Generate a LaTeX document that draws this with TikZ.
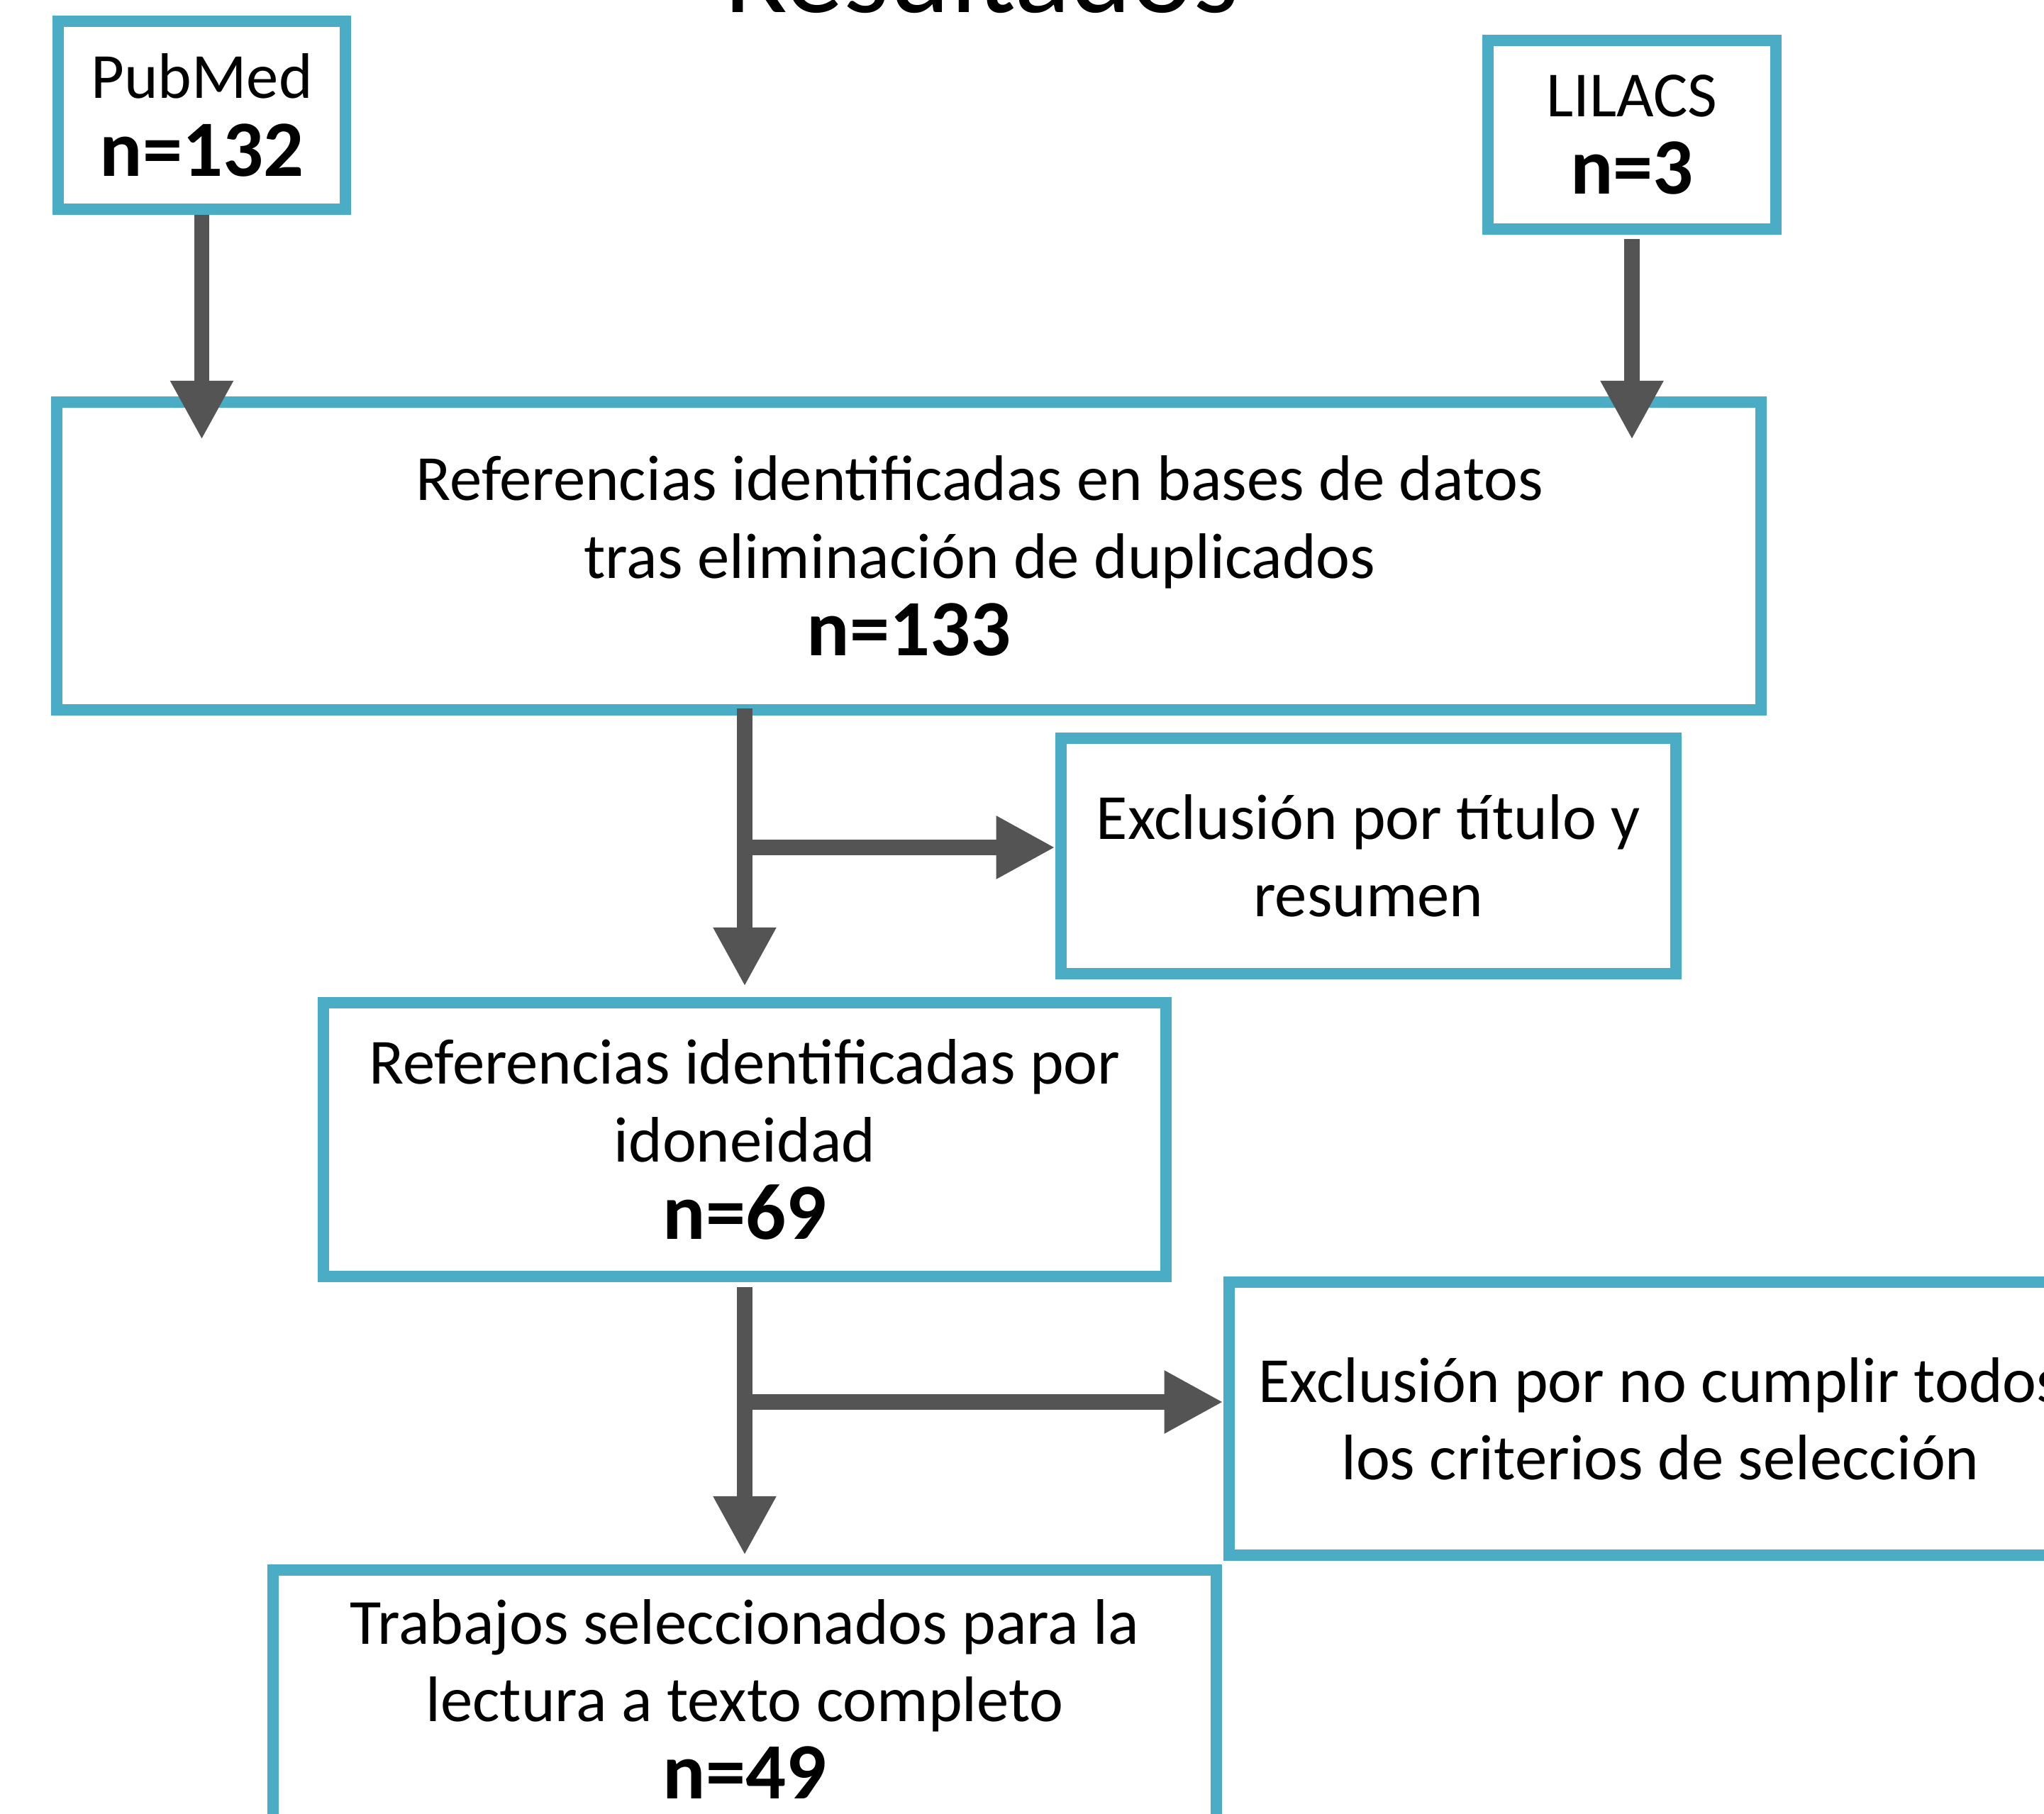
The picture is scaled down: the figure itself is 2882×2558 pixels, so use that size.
\documentclass[tikz,border=0pt]{standalone}
\usepackage{fontspec}
\setmainfont{Carlito}
\usetikzlibrary{arrows.meta}
\definecolor{boxblue}{RGB}{75,172,198}
\definecolor{arrowgray}{RGB}{84,84,84}
\tikzset{
  box/.style={draw=boxblue, line width=0.16cm, fill=white, rectangle, align=center, inner sep=0pt},
  flow/.style={draw=arrowgray, line width=0.214cm, -{Triangle[length=0.83cm,width=0.83cm]}},
}
\newcommand{\nval}[1]{{\fontsize{32}{31.1}\selectfont\bfseries #1}}

\begin{document}
\begin{tikzpicture}[x=0.01cm,y=-0.01cm,font=\fontsize{25.8}{31.1}\selectfont]
    \useasboundingbox (0,0) rectangle (2882,2558);
    \clip (0,0) rectangle (2882,2558);

    \node[anchor=base,font=\fontsize{46.7}{56}\selectfont](title) at (1384,18) {Resultados};

    \node[box,minimum width=4.05cm,minimum height=2.65cm](pub) at (284.5,162.5) {PubMed\\ \nval{n=132}};
    \node[box,minimum width=4.06cm,minimum height=2.66cm](lil) at (2301,190) {LILACS\\ \nval{n=3}};

    \node[box,minimum width=24.01cm,minimum height=4.34cm](ref) at (1281.5,784)
        {\hspace*{2cm}Referencias identificadas en bases de datos\\
         \hspace*{2cm}tras eliminación de duplicados\\ \nval{n=133}};

    \node[box,minimum width=8.67cm,minimum height=3.32cm](excl1) at (1929.5,1207) {Exclusión por título y\\ resumen};
    \node[box,minimum width=11.88cm,minimum height=3.86cm](idon) at (1050,1607) {Referencias identificadas por\\ idoneidad\\ \nval{n=69}};

    \node[box,minimum width=12.16cm,minimum height=3.85cm](excl2) at (2341,2000.5) {Exclusión por no cumplir todos\\ los criterios de selección};
    \node[box,minimum width=13.3cm,minimum height=3.64cm](sel) at (1050,2396) {Trabajos seleccionados para la\\ lectura a texto completo\\ \nval{n=49}};

    \coordinate (j1) at (1039,1195);
    \coordinate (j2) at (1039,1977);

    % flujo
    \draw[flow] (pub.south) -- (pub.south |- ref.north) [shorten >=-0.61cm];
    \draw[flow,shorten <=0.06cm,shorten >=-0.61cm] (lil.south) -- (lil.south |- ref.north);
    \draw[flow,shorten <=-0.1cm,shorten >=0.15cm] (idon.north |- ref.south) -- (idon.north);
    \draw[flow] (j1) -- (j1 -| excl1.west);
    \draw[flow,shorten <=0.07cm,shorten >=0.13cm] (idon.south) -- (sel.north);
    \draw[flow] (j2) -- (j2 -| excl2.west);

\end{tikzpicture}
\end{document}
